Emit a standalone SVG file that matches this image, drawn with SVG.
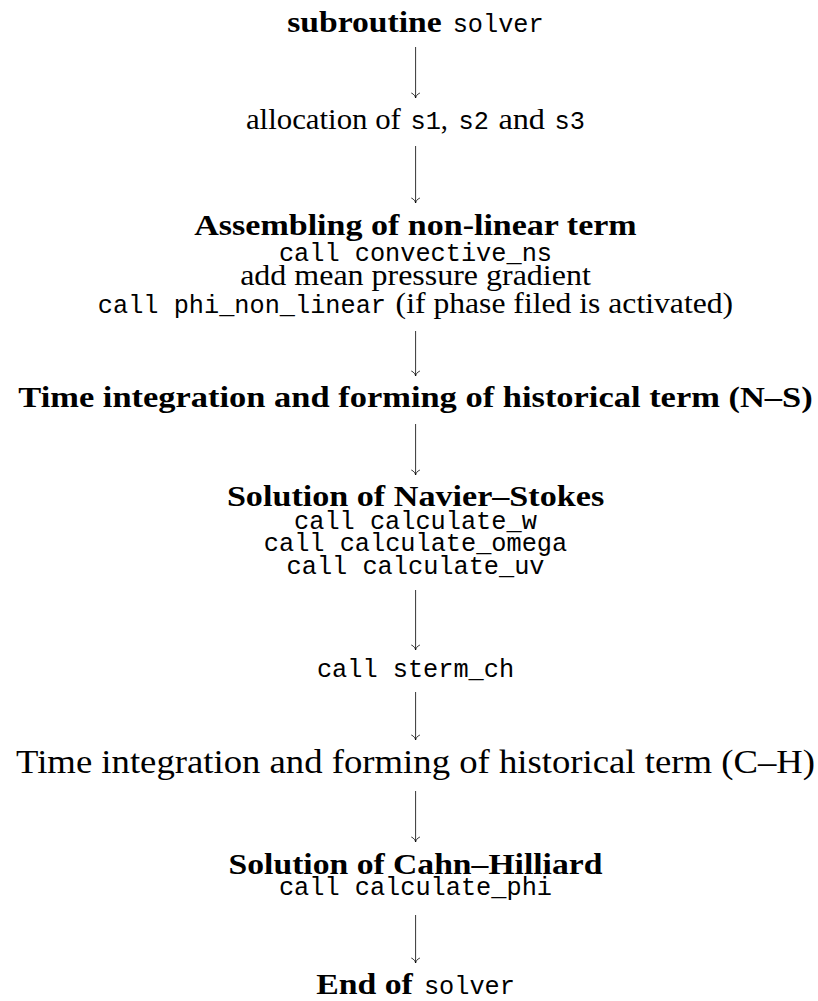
<svg xmlns="http://www.w3.org/2000/svg" width="818" height="1001" viewBox="0 0 818 1001">
<style>
.b{font-family:"Liberation Serif",serif;font-weight:bold;font-size:29px;fill:#000}
.r{font-family:"Liberation Serif",serif;font-size:28.5px;fill:#000}
.rl{font-family:"Liberation Serif",serif;font-size:33px;fill:#000}
.m{font-family:"Liberation Mono",monospace;font-size:26px;fill:#000}
#connectors line{stroke:#000;stroke-width:0.8;fill:none;marker-end:url(#to)}
</style>
<defs>
<marker id="to" markerUnits="userSpaceOnUse" viewBox="-6 -5 7 10" refX="0" refY="0" markerWidth="7" markerHeight="10" orient="auto" overflow="visible">
<path d="M-5,-4.3 C-4,-1.6 -1.6,-0.3 0,0 C-1.6,0.3 -4,1.6 -5,4.3" fill="none" stroke="#000" stroke-width="0.8"/>
</marker>
</defs>
<rect width="818" height="1001" fill="#fff"/>
<g id="n1">
<text class="b" x="287.2" y="32" textLength="154.4" lengthAdjust="spacingAndGlyphs">subroutine</text>
<text class="m" x="452.7" y="32" textLength="91" lengthAdjust="spacingAndGlyphs">solver</text>
</g>
<g id="n2">
<text class="r" x="245.9" y="129" textLength="155" lengthAdjust="spacingAndGlyphs">allocation of</text>
<text class="m" x="410.5" y="129" textLength="30.3" lengthAdjust="spacingAndGlyphs">s1</text>
<text class="r" x="440.8" y="129">,</text>
<text class="m" x="458.5" y="129" textLength="30.3" lengthAdjust="spacingAndGlyphs">s2</text>
<text class="r" x="498.4" y="129" textLength="46.6" lengthAdjust="spacingAndGlyphs">and</text>
<text class="m" x="554.6" y="129" textLength="30.3" lengthAdjust="spacingAndGlyphs">s3</text>
</g>
<g id="n3">
<text class="b" x="194.3" y="235" textLength="442.4" lengthAdjust="spacingAndGlyphs">Assembling of non-linear term</text>
<text class="m" x="278.9" y="261" textLength="273.1" lengthAdjust="spacingAndGlyphs">call convective_ns</text>
<text class="r" x="240.2" y="285" textLength="350.6" lengthAdjust="spacingAndGlyphs">add mean pressure gradient</text>
<text class="m" x="97.8" y="313" textLength="288.2" lengthAdjust="spacingAndGlyphs">call phi_non_linear</text>
<text class="r" x="395.6" y="313" textLength="337.5" lengthAdjust="spacingAndGlyphs">(if phase filed is activated)</text>
</g>
<g id="n4">
<text class="b" x="18.3" y="407" textLength="794.4" lengthAdjust="spacingAndGlyphs">Time integration and forming of historical term (N–S)</text>
</g>
<g id="n5">
<text class="b" x="226.9" y="506" textLength="377.3" lengthAdjust="spacingAndGlyphs">Solution of Navier–Stokes</text>
<text class="m" x="294.1" y="529" textLength="242.7" lengthAdjust="spacingAndGlyphs">call calculate_w</text>
<text class="m" x="263.8" y="551" textLength="303.4" lengthAdjust="spacingAndGlyphs">call calculate_omega</text>
<text class="m" x="286.6" y="574" textLength="257.9" lengthAdjust="spacingAndGlyphs">call calculate_uv</text>
</g>
<g id="n6">
<text class="m" x="316.9" y="677" textLength="197.2" lengthAdjust="spacingAndGlyphs">call sterm_ch</text>
</g>
<g id="n7">
<text class="rl" x="16" y="773" textLength="799" lengthAdjust="spacingAndGlyphs">Time integration and forming of historical term (C–H)</text>
</g>
<g id="n8">
<text class="b" x="228.6" y="874" textLength="373.8" lengthAdjust="spacingAndGlyphs">Solution of Cahn–Hilliard</text>
<text class="m" x="278.9" y="895" textLength="273.1" lengthAdjust="spacingAndGlyphs">call calculate_phi</text>
</g>
<g id="n9">
<text class="b" x="316.2" y="994" textLength="96.6" lengthAdjust="spacingAndGlyphs">End of</text>
<text class="m" x="423.9" y="994" textLength="91" lengthAdjust="spacingAndGlyphs">solver</text>
</g>
<g id="connectors">
<line x1="415.6" y1="47" x2="415.6" y2="98"/>
<line x1="415.6" y1="146" x2="415.6" y2="203"/>
<line x1="415.6" y1="331" x2="415.6" y2="376"/>
<line x1="415.6" y1="424" x2="415.6" y2="475"/>
<line x1="415.6" y1="590" x2="415.6" y2="650"/>
<line x1="415.6" y1="692" x2="415.6" y2="740"/>
<line x1="415.6" y1="791" x2="415.6" y2="842"/>
<line x1="415.6" y1="915" x2="415.6" y2="963"/>
</g>
</svg>
